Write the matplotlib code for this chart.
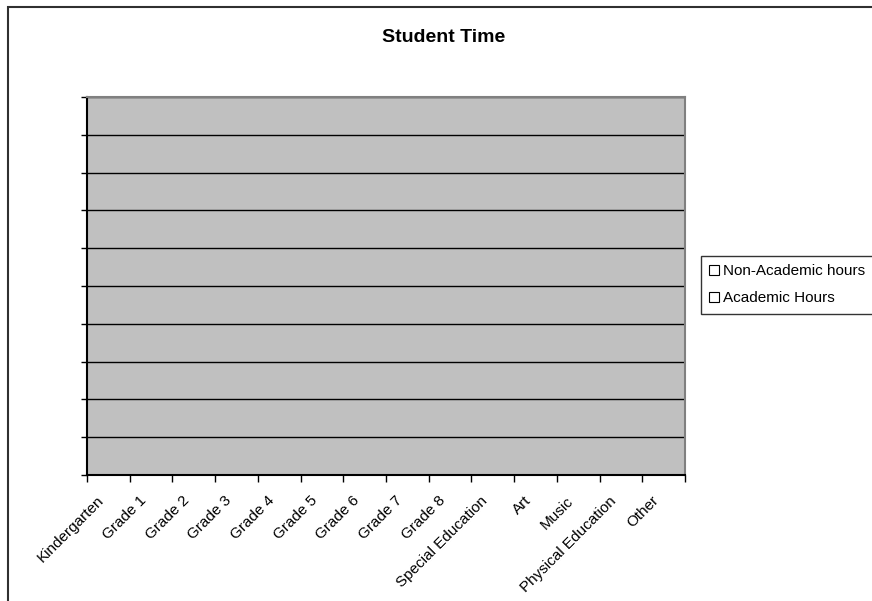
import matplotlib
matplotlib.use("Agg")
import matplotlib.pyplot as plt
import matplotlib.transforms as mtransforms
import numpy as np
from matplotlib.patches import Rectangle, Patch

plt.rcParams['font.family'] = ['Liberation Sans', 'DejaVu Sans']

categories = ["Kindergarten", "Grade 1", "Grade 2", "Grade 3", "Grade 4", "Grade 5",
              "Grade 6", "Grade 7", "Grade 8", "Special Education", "Art", "Music",
              "Physical Education", "Other"]
# The reference chart contains no data values (empty series)
academic_hours = [np.nan] * len(categories)
non_academic_hours = [np.nan] * len(categories)
series_names = ["Non-Academic hours", "Academic Hours"]
y_max = 10

fig = plt.figure(figsize=(8.72, 6.01), dpi=100)
ax = fig.add_axes([87/872, 1 - 475/601, (685-87)/872, (475-97)/601])
ax.set_facecolor('#c0c0c0')

x = np.arange(len(categories)) + 0.5
ax.bar(x, academic_hours, width=0.6, color='white', edgecolor='black', label=series_names[1])
ax.bar(x, non_academic_hours, width=0.6, bottom=academic_hours, color='white',
       edgecolor='black', label=series_names[0])

ax.set_xlim(0, len(categories))
ax.set_ylim(0, y_max)

ax.set_xticks(np.arange(len(categories) + 1))
ax.set_xticklabels([])
ax.set_xticks(x, minor=True)
ax.set_xticklabels(categories, minor=True, rotation=45, ha='right', va='center',
                   rotation_mode='anchor', fontsize=11)
ax.tick_params(axis='x', which='minor', length=0, pad=17)
ax.tick_params(axis='x', which='major', direction='out', length=5, width=1, color='black')
offset = mtransforms.ScaledTranslation(-7/100, 0, fig.dpi_scale_trans)
for lbl in ax.get_xticklabels(minor=True):
    lbl.set_transform(lbl.get_transform() + offset)

ax.set_yticks(np.arange(0, y_max + 1, 1))
ax.set_yticklabels([])
ax.tick_params(axis='y', direction='out', length=4, width=1, color='black')
ax.yaxis.grid(True, color='black', linewidth=1)
ax.set_axisbelow(True)

for s in ['left', 'bottom']:
    ax.spines[s].set_color('black')
    ax.spines[s].set_linewidth(1.5)
for s in ['top', 'right']:
    ax.spines[s].set_color('#808080')
    ax.spines[s].set_linewidth(1.5)

fig.text(444/872, 1 - 38/601, "Student Time", ha='center', va='center',
         fontsize=14, fontweight='bold')

handles = [Patch(facecolor='white', edgecolor='black', linewidth=0.8, label=series_names[0]),
           Patch(facecolor='white', edgecolor='black', linewidth=0.8, label=series_names[1])]
leg = fig.legend(handles=handles, loc='upper left',
                 bbox_to_anchor=(701/872, 1 - 256/601), fontsize=11,
                 frameon=True, fancybox=False, edgecolor='black',
                 handlelength=0.6, handleheight=0.6, handletextpad=0.3,
                 borderpad=0.55, labelspacing=0.85, borderaxespad=0)
leg.get_frame().set_linewidth(1)

fig.patches.append(Rectangle((8/872, -0.1), 1.2, 1 - 7/601 + 0.1,
                             transform=fig.transFigure, fill=False,
                             edgecolor='#303030', linewidth=1.5))

fig.savefig("out.png", dpi=100)
